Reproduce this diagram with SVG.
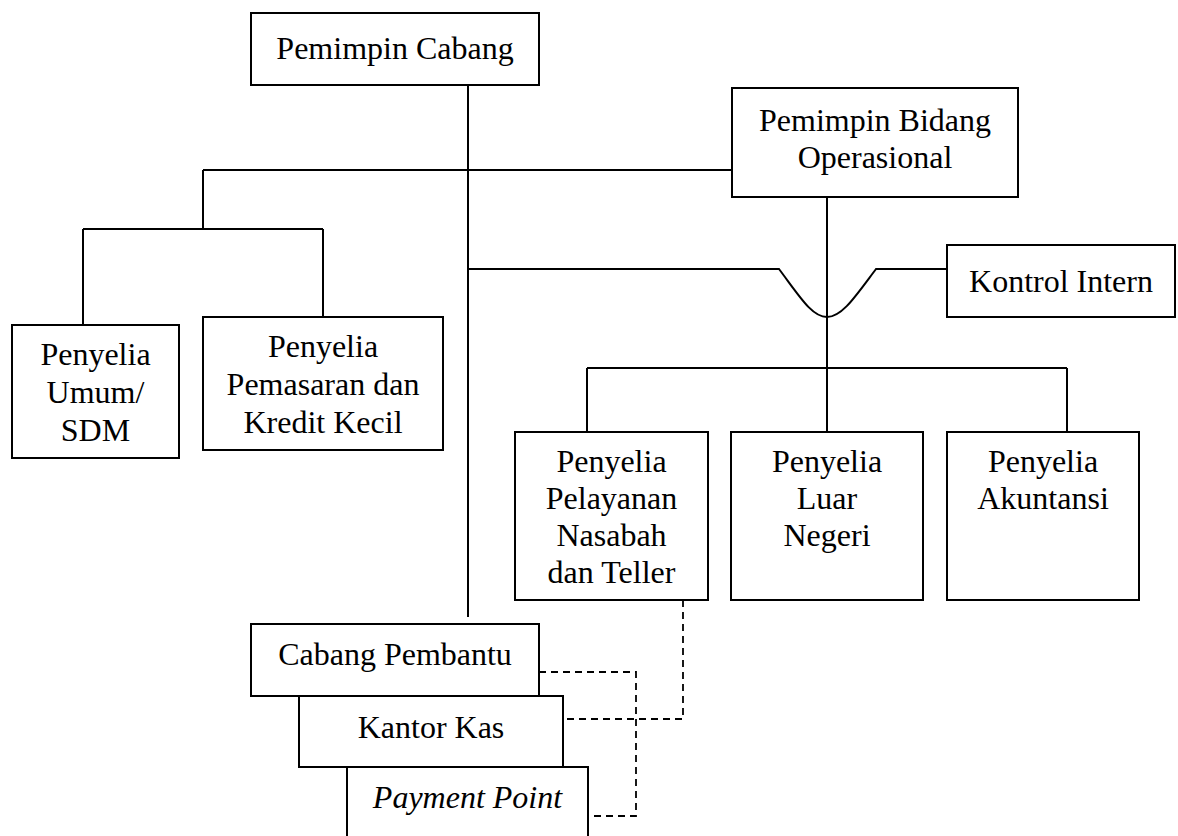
<svg xmlns="http://www.w3.org/2000/svg" width="1178" height="836" viewBox="0 0 1178 836">
  <style>
    .box { fill: #ffffff; stroke: #000000; stroke-width: 2; }
    .line { fill: none; stroke: #000000; stroke-width: 2; }
    .dash { fill: none; stroke: #000000; stroke-width: 1.8; stroke-dasharray: 7 5; }
    text { font-family: "Liberation Serif", "Times New Roman", serif; font-size: 32px; fill: #000000; text-anchor: middle; }
    .it { font-style: italic; }
  </style>
  <rect width="1178" height="836" fill="#ffffff"/>

  <!-- connectors -->
  <g id="connectors">
    <!-- main trunk from branch head -->
    <path class="line" d="M468,85 V617"/>
    <!-- line to operations head and left staff branch -->
    <path class="line" d="M203,170 H732"/>
    <path class="line" d="M203,170 V229"/>
    <path class="line" d="M83,229 H323"/>
    <path class="line" d="M83,229 V325"/>
    <path class="line" d="M323,229 V317"/>
    <!-- internal control line, hopping over the operations trunk -->
    <path class="line" d="M468,269 H779 C800,297 812,317 827,317 C842,317 855,297 876,269 H947"/>
    <!-- operations trunk and its three supervisors -->
    <path class="line" d="M827,197 V432"/>
    <path class="line" d="M587,368 H1067"/>
    <path class="line" d="M587,368 V432"/>
    <path class="line" d="M1067,368 V432"/>
    <!-- dashed coordination lines -->
    <path class="dash" d="M683,600 V719 H563"/>
    <path class="dash" d="M539,672 H636 V816 H588"/>
  </g>

  <g id="pemimpin-cabang">
    <rect class="box" x="251" y="13" width="288" height="72"/>
    <text x="395" y="59">Pemimpin Cabang</text>
  </g>

  <g id="pemimpin-bidang-operasional">
    <rect class="box" x="732" y="88" width="286" height="109"/>
    <text x="875" y="131">Pemimpin Bidang</text>
    <text x="875" y="168">Operasional</text>
  </g>

  <g id="kontrol-intern">
    <rect class="box" x="947" y="245" width="228" height="72"/>
    <text x="1061" y="292">Kontrol Intern</text>
  </g>

  <g id="penyelia-umum-sdm">
    <rect class="box" x="12" y="325" width="167" height="133"/>
    <text x="95.5" y="365">Penyelia</text>
    <text x="95.5" y="403">Umum/</text>
    <text x="95.5" y="441">SDM</text>
  </g>

  <g id="penyelia-pemasaran">
    <rect class="box" x="203" y="317" width="240" height="133"/>
    <text x="323" y="357">Penyelia</text>
    <text x="323" y="395">Pemasaran dan</text>
    <text x="323" y="433">Kredit Kecil</text>
  </g>

  <g id="penyelia-pelayanan">
    <rect class="box" x="515" y="432" width="193" height="168"/>
    <text x="611.5" y="472">Penyelia</text>
    <text x="611.5" y="509">Pelayanan</text>
    <text x="611.5" y="546">Nasabah</text>
    <text x="611.5" y="583">dan Teller</text>
  </g>

  <g id="penyelia-luar-negeri">
    <rect class="box" x="731" y="432" width="192" height="168"/>
    <text x="827" y="472">Penyelia</text>
    <text x="827" y="509">Luar</text>
    <text x="827" y="546">Negeri</text>
  </g>

  <g id="penyelia-akuntansi">
    <rect class="box" x="947" y="432" width="192" height="168"/>
    <text x="1043" y="472">Penyelia</text>
    <text x="1043" y="509">Akuntansi</text>
  </g>

  <g id="cabang-pembantu">
    <rect class="box" x="251" y="624" width="288" height="72"/>
    <text x="395" y="665">Cabang Pembantu</text>
  </g>

  <g id="kantor-kas">
    <rect class="box" x="299" y="696" width="264" height="71"/>
    <text x="431" y="738">Kantor Kas</text>
  </g>

  <g id="payment-point">
    <rect class="box" x="347" y="767" width="241" height="90"/>
    <text class="it" x="467.5" y="808">Payment Point</text>
  </g>
</svg>
